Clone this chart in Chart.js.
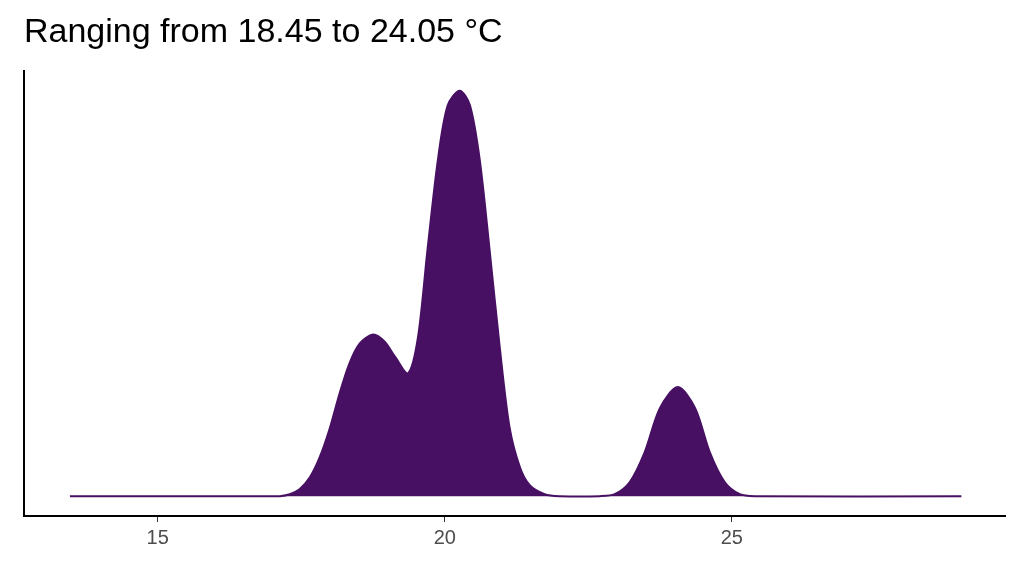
<!DOCTYPE html>
<html>
<head>
<meta charset="utf-8">
<script src="https://cdn.jsdelivr.net/npm/chart.js@4"></script>
<style>
  html, body { margin: 0; padding: 0; background: #fff; }
  #wrap { width: 1024px; height: 576px; }
</style>
</head>
<body>
<div id="wrap"><canvas id="myChart" width="1024" height="576"></canvas></div>
<script>
// temperature (°C) and estimated density
const temps = [13.47, 17.0, 17.13, 17.30, 17.47, 17.65, 17.82, 18.0, 18.17, 18.34, 18.52, 18.75, 18.95, 19.13, 19.36,
  19.53, 19.70, 19.88, 20.05, 20.26, 20.44, 20.61, 20.78, 20.96, 21.13, 21.31, 21.48, 21.74, 22.0,
  22.7, 22.96, 23.22, 23.48, 23.75, 24.06, 24.36, 24.62, 24.88, 25.14, 25.40, 29.0];
const density = [0, 0, 0, 0.002, 0.007, 0.019, 0.039, 0.069, 0.104, 0.134, 0.154, 0.163, 0.156, 0.141, 0.124,
  0.159, 0.249, 0.339, 0.394, 0.409, 0.394, 0.339, 0.249, 0.149, 0.069, 0.029, 0.011, 0.002, 0,
  0, 0.002, 0.014, 0.044, 0.089, 0.110, 0.089, 0.044, 0.014, 0.002, 0, 0];
const xTicks = [15, 20, 25];

const points = temps.map((t, i) => ({ x: t, y: density[i] }));

new Chart(document.getElementById('myChart'), {
  type: 'line',
  data: {
    datasets: [{
      data: points,
      borderColor: '#471063',
      backgroundColor: '#471063',
      borderWidth: 2,
      fill: 'origin',
      pointRadius: 0,
      tension: 0.3
    }]
  },
  options: {
    responsive: false,
    animation: false,
    layout: { padding: { left: 24, right: 19, top: 0, bottom: 22 } },
    plugins: {
      legend: { display: false },
      tooltip: { enabled: false },
      title: {
        display: true,
        text: 'Ranging from 18.45 to 24.05 °C',
        align: 'start',
        color: '#000',
        font: { family: 'Liberation Sans', size: 34, weight: 'normal' },
        padding: { top: 12, bottom: 18 }
      }
    },
    scales: {
      x: {
        type: 'linear',
        min: 12.67,
        max: 29.76,
        afterBuildTicks: axis => { axis.ticks = xTicks.map(v => ({ value: v })); },
        grid: { display: true, drawOnChartArea: false, drawTicks: true, tickLength: 6, tickColor: '#333' },
        border: { display: true, color: '#000', width: 2 },
        ticks: { color: '#4d4d4d', font: { family: 'Liberation Sans', size: 20 }, padding: 4 }
      },
      y: {
        min: -0.02,
        max: 0.429,
        afterFit: s => { s.width = 0; },
        grid: { display: false },
        border: { display: true, color: '#000', width: 2 },
        ticks: { display: false }
      }
    }
  }
});
</script>
</body>
</html>
